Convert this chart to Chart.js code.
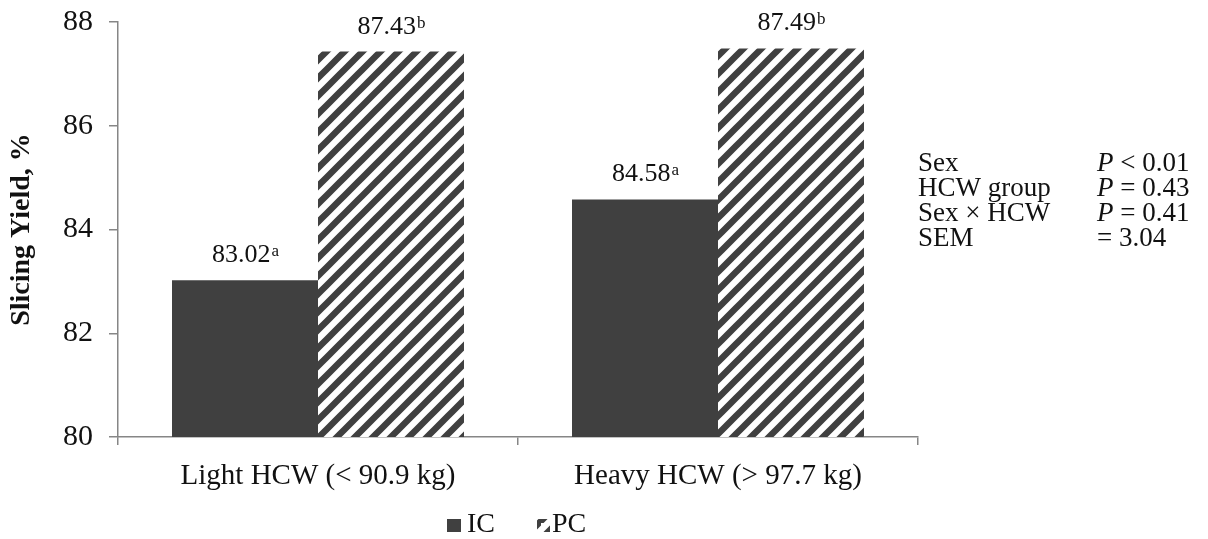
<!DOCTYPE html>
<html>
<head>
<meta charset="utf-8">
<script src="https://cdn.jsdelivr.net/npm/chart.js@4"></script>
<style>
  html, body { margin: 0; padding: 0; background: #fff; }
  canvas { display: block; }
</style>
</head>
<body>
<canvas id="chart" width="1208" height="539"></canvas>
<script>
// Data
const categories = ["Light HCW (< 90.9 kg)", "Heavy HCW (> 97.7 kg)"];
const icValues = [83.02, 84.58];
const pcValues = [87.43, 87.49];
const icLetters = ["a", "a"];
const pcLetters = ["b", "b"];
const yTicks = [80, 82, 84, 86, 88];
const statNames = ["Sex", "HCW group", "Sex \u00d7 HCW", "SEM"];
const statValues = [["P", " < 0.01"], ["P", " = 0.43"], ["P", " = 0.41"], ["", "= 3.04"]];

const DARK = "#404040";
const AXIS = "#868686";
const FONT = "'Liberation Serif', 'Times New Roman', serif";

// diagonal hatch for PC
function makeHatch(size, lw) {
    const c = document.createElement("canvas");
    c.width = size;
    c.height = size;
    const g = c.getContext("2d");
    g.fillStyle = "#fff";
    g.fillRect(0, 0, size, size);
    g.strokeStyle = DARK;
    g.lineWidth = lw;
    g.beginPath();
    g.moveTo(-size, size * 2); g.lineTo(size * 2, -size);
    g.moveTo(-size, size); g.lineTo(size, -size);
    g.moveTo(0, size * 2); g.lineTo(size * 2, 0);
    g.stroke();
    return g.createPattern(c, "repeat");
}
const hatch = makeHatch(18, 6.5);

// value labels with superscript letters
const valueLabels = {
    id: "valueLabels",
    afterDatasetsDraw(chart) {
        const c = chart.ctx;
        const letters = [icLetters, pcLetters];
        c.save();
        c.fillStyle = "#111";
        c.textBaseline = "alphabetic";
        chart.data.datasets.forEach((ds, di) => {
            chart.getDatasetMeta(di).data.forEach((bar, i) => {
                const main = ds.data[i].toFixed(2);
                const sup = letters[di][i];
                c.font = "26px " + FONT;
                const w1 = c.measureText(main).width;
                c.font = "17px " + FONT;
                const w2 = c.measureText(sup).width;
                const x0 = bar.x - (w1 + w2) / 2;
                const y = bar.y - 18;
                c.textAlign = "left";
                c.font = "26px " + FONT;
                c.fillText(main, x0, y);
                c.font = "17px " + FONT;
                c.fillText(sup, x0 + w1 + 1, y - 6);
            });
        });
        c.restore();
    }
};

// legend + stats text
const extras = {
    id: "extras",
    afterDraw(chart) {
        const c = chart.ctx;
        c.save();
        c.fillStyle = "#111";
        c.textBaseline = "alphabetic";
        c.font = "27px " + FONT;
        statNames.forEach((n, i) => {
            const y = 171 + i * 25;
            c.textAlign = "left";
            c.fillText(n, 918, y);
            let x = 1097;
            if (statValues[i][0]) {
                c.font = "italic 27px " + FONT;
                c.fillText(statValues[i][0], x, y);
                x += c.measureText(statValues[i][0]).width;
                c.font = "27px " + FONT;
            }
            c.fillText(statValues[i][1], x, y);
        });

        // legend
        const ly = 532;
        c.fillStyle = DARK;
        c.fillRect(447, ly - 13, 14, 13);
        c.fillStyle = "#111";
        c.font = "28px " + FONT;
        c.fillText("IC", 467, ly);
        c.fillStyle = hatch;
        c.fillRect(537, ly - 13, 13, 13);
        c.fillStyle = "#fff";
        c.fillRect(541, ly - 9, 5, 5);
        c.fillStyle = "#111";
        c.fillText("PC", 552, ly);
        c.restore();
    }
};

new Chart(document.getElementById("chart").getContext("2d"), {
    type: "bar",
    data: {
        labels: categories,
        datasets: [
            { label: "IC", data: icValues, backgroundColor: DARK, borderWidth: 0 },
            { label: "PC", data: pcValues, backgroundColor: hatch, borderWidth: 0 }
        ]
    },
    options: {
        responsive: false,
        animation: false,
        devicePixelRatio: 1,
        layout: { padding: { left: 0, right: 290, top: 22, bottom: 0 } },
        datasets: { bar: { categoryPercentage: 0.73, barPercentage: 1.0 } },
        plugins: {
            legend: { display: false },
            tooltip: { enabled: false }
        },
        scales: {
            x: {
                grid: { drawOnChartArea: false, drawTicks: true, tickLength: 8, color: AXIS, lineWidth: 1.5, offset: true },
                border: { color: AXIS, width: 1.5 },
                ticks: { color: "#111", font: { family: FONT, size: 29 }, padding: 14, maxRotation: 0 },
                afterFit(scale) {
                    scale.height = 102;
                    scale.paddingLeft = 0;
                    scale.paddingRight = 0;
                }
            },
            y: {
                min: 80,
                max: 88,
                afterBuildTicks(scale) { scale.ticks = yTicks.map(v => ({ value: v })); },
                grid: { drawOnChartArea: false, drawTicks: true, tickLength: 9, color: AXIS, lineWidth: 1.5 },
                border: { color: AXIS, width: 1.5 },
                ticks: { color: "#111", font: { family: FONT, size: 30 }, padding: 16 },
                title: {
                    display: true,
                    text: "Slicing Yield, %",
                    color: "#111",
                    font: { family: FONT, size: 28, weight: "bold" },
                    padding: { top: 5, bottom: 0 }
                },
                afterFit(scale) {
                    scale.width = 118;
                    scale.paddingTop = 0;
                    scale.paddingBottom = 0;
                }
            }
        }
    },
    plugins: [valueLabels, extras]
});
</script>
</body>
</html>
